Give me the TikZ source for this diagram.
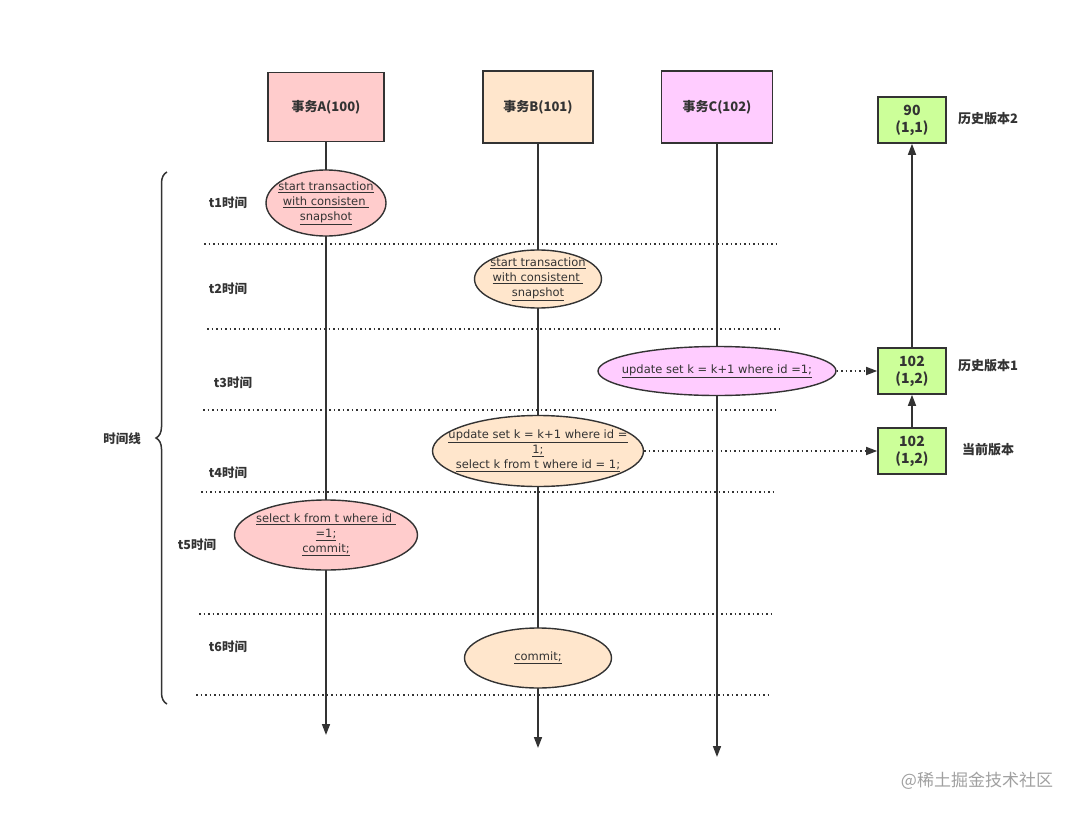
\documentclass[tikz,border=0pt]{standalone}
\usepackage{fontspec}
\setmainfont{DejaVu Sans}
\newfontfamily\cjk{Noto Sans CJK SC}
\usetikzlibrary{arrows.meta}
\usetikzlibrary{shapes.geometric}
\usetikzlibrary{decorations.pathreplacing}
\usepackage{xcolor}
\definecolor{inkgrey}{HTML}{333333}
\definecolor{txnpink}{HTML}{FFCCCC}
\definecolor{txnsand}{HTML}{FFE6CC}
\definecolor{txnlilac}{HTML}{FFCCFF}
\definecolor{vergreen}{HTML}{CCFF99}
\definecolor{markgrey}{HTML}{A0A0A0}
\newcommand{\sqlu}[1]{\underline{#1}}

\begin{document}
\begin{tikzpicture}[x=1pt, y=-1pt,
        txn/.style={rectangle, draw=inkgrey, line width=1.6pt,
          font=\cjk\bfseries\fontsize{13}{15}\selectfont, text=inkgrey},
        op/.style={ellipse, draw=inkgrey, line width=1.4pt, inner sep=-30pt,
          align=center, font=\fontsize{11.5}{15}\selectfont, text=inkgrey},
        ver/.style={rectangle, draw=inkgrey, fill=vergreen, line width=1.6pt,
          minimum width=68pt, minimum height=46pt, align=center,
          font=\cjk\bfseries\fontsize{14}{17}\selectfont, text=inkgrey},
        tlbl/.style={font=\cjk\bfseries\fontsize{12.5}{14}\selectfont, text=inkgrey},
        vlbl/.style={font=\cjk\bfseries\fontsize{13}{15}\selectfont, text=inkgrey},
        life/.style={draw=inkgrey, line width=1.6pt,
          -{Triangle[length=11pt, width=8pt]}},
        slot/.style={draw=inkgrey, line width=1.5pt,
          dash pattern=on 1.5pt off 3pt},
        link/.style={slot, -{Triangle[length=11pt, width=8pt]}},
      ]

      \useasboundingbox (0,0) rectangle (1080,814);

      % Transaction headers
      \node[txn, fill=txnpink, minimum width=116pt, minimum height=69pt]
        (txA) at (326,107) {事务A(100)};
      \node[txn, fill=txnsand, minimum width=110pt, minimum height=72pt]
        (txB) at (538,107) {事务B(101)};
      \node[txn, fill=txnlilac, minimum width=111pt, minimum height=72pt]
        (txC) at (717,107) {事务C(102)};

      % Lifelines
      \coordinate (endA) at (326,735);
      \coordinate (endB) at (538,748);
      \coordinate (endC) at (717,757);
      \draw[life] (txA.south) -- (endA);
      \draw[life] (txB.south) -- (endB);
      \draw[life] (txC.south) -- (endC);

      % Time slots
      \coordinate (s1l) at (204,244); \coordinate (s1r) at (776,244);
      \coordinate (s2l) at (207,329); \coordinate (s2r) at (779,329);
      \coordinate (s3l) at (203,410); \coordinate (s3r) at (775,410);
      \coordinate (s4l) at (201,492); \coordinate (s4r) at (773,492);
      \coordinate (s5l) at (199,614); \coordinate (s5r) at (771,614);
      \coordinate (s6l) at (196,695); \coordinate (s6r) at (769,695);
      \foreach \s in {1,...,6}
        \draw[slot] (s\s l) -- (s\s r);

      \node[tlbl] (t1) at (228,203) {t1时间};
      \node[tlbl] (t2) at (228,289) {t2时间};
      \node[tlbl] (t3) at (233,383) {t3时间};
      \node[tlbl] (t4) at (228,473) {t4时间};
      \node[tlbl] (t5) at (197,545) {t5时间};
      \node[tlbl] (t6) at (228,647) {t6时间};

      % Timeline brace
      \draw[inkgrey, line width=1.5pt, decorate,
        decoration={brace, amplitude=11pt}] (167,704) -- (167,172);
      \node[tlbl] (axis) at (122,439) {时间线};

      % Statements
      \node[op, fill=txnpink, minimum width=120pt, minimum height=66pt]
        (a1) at (326,203)
        {\sqlu{start transaction}\\ \sqlu{with consisten }\\ \sqlu{snapshot}};
      \node[op, fill=txnsand, minimum width=127pt, minimum height=58pt]
        (b1) at (538,279)
        {\sqlu{start transaction}\\ \sqlu{with consistent }\\ \sqlu{snapshot}};
      \node[op, fill=txnlilac, minimum width=238pt, minimum height=49pt]
        (c3) at (717,371) {\sqlu{update set k = k+1 where id =1;}};
      \node[op, fill=txnsand, minimum width=211pt, minimum height=71pt]
        (b4) at (538,451)
        {\sqlu{update set k = k+1 where id =}\\ \sqlu{1;}\\
         \sqlu{select k from t where id = 1;}};
      \node[op, fill=txnpink, minimum width=183pt, minimum height=70pt]
        (a5) at (326,535)
        {\sqlu{select k from t where id }\\ \sqlu{=1;}\\ \sqlu{commit;}};
      \node[op, fill=txnsand, minimum width=147pt, minimum height=60pt]
        (b6) at (538,658) {\sqlu{commit;}};

      % Version chain
      \node[ver] (v2) at (912,120) {90\\(1,1)};
      \node[ver] (v1) at (912,371) {102\\(1,2)};
      \node[ver] (v0) at (912,451) {102\\(1,2)};
      \node[vlbl] (v2l) at (988,119) {历史版本2};
      \node[vlbl] (v1l) at (988,366) {历史版本1};
      \node[vlbl] (v0l) at (988,450) {当前版本};

      \draw[life] (v1.north) -- (v2.south);
      \draw[life] (v0.north) -- (v1.south);
      \draw[link] (c3.east) -- (v1.west);
      \draw[link] (b4.east) -- (v0.west);

      % Watermark
      \node[font=\cjk\fontsize{17}{19}\selectfont, text=markgrey]
        (mark) at (977,781) {@稀土掘金技术社区};

      \end{tikzpicture}
\end{document}
